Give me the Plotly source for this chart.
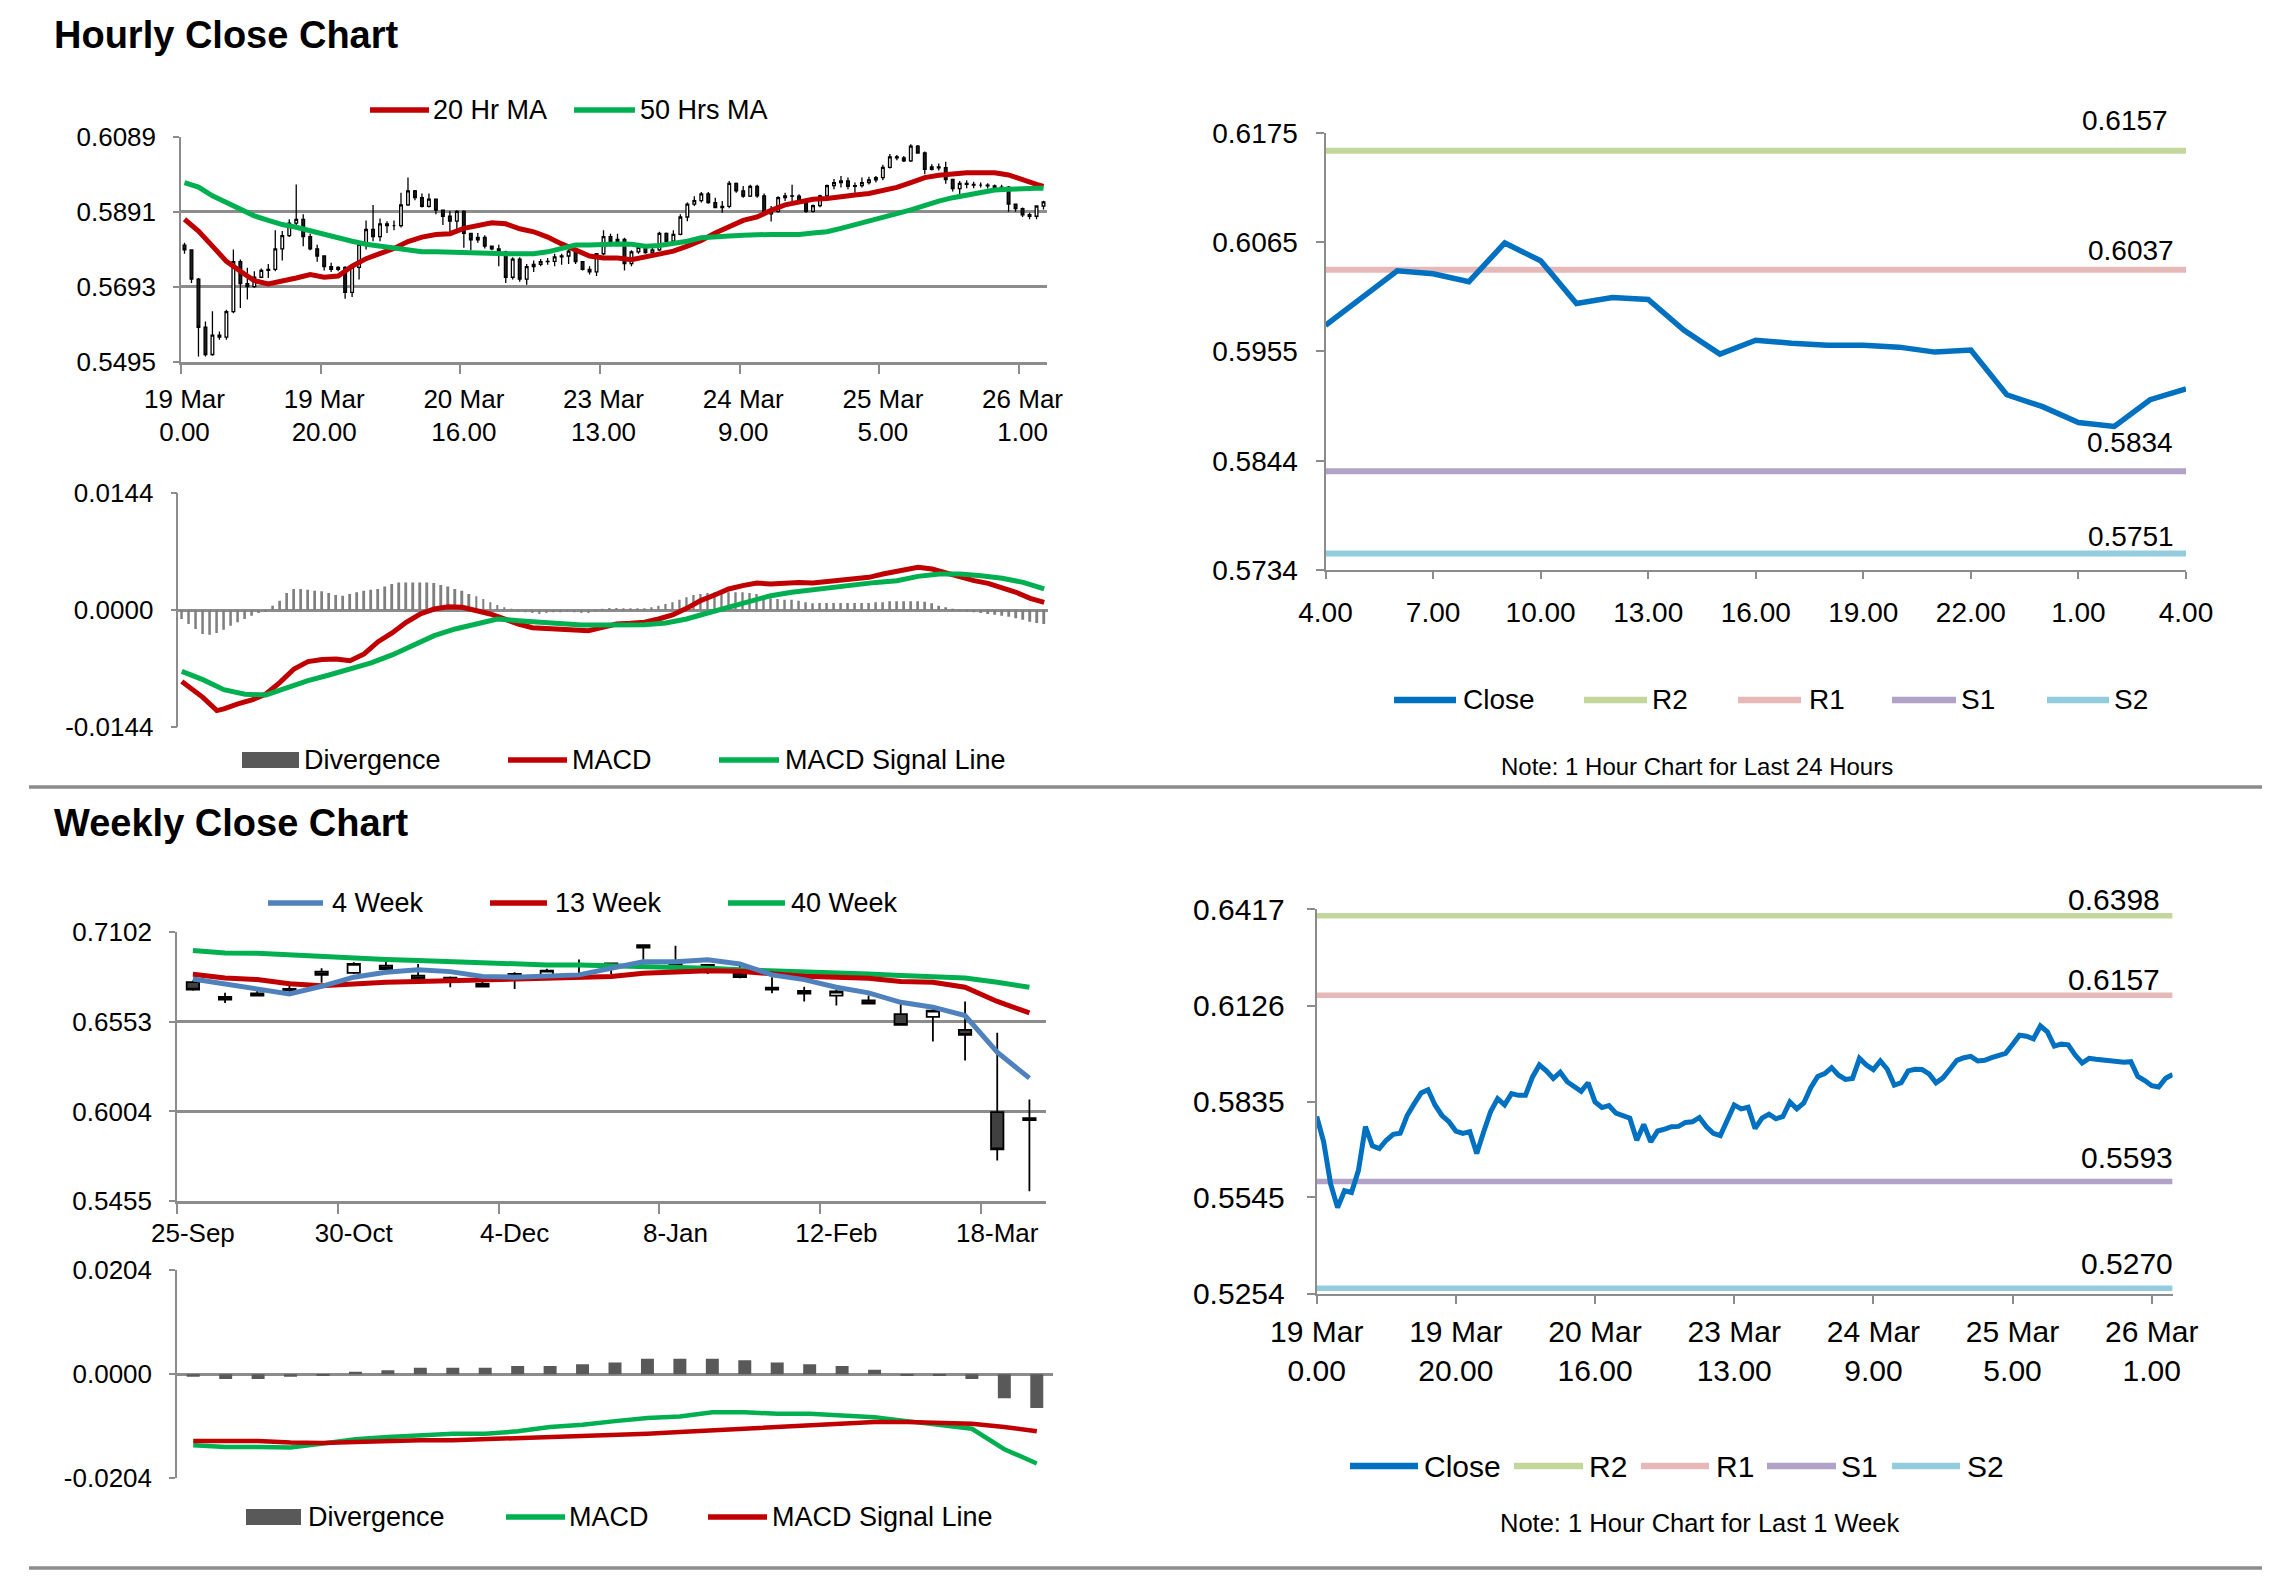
import plotly.graph_objects as go

W, H = 2291, 1577
FONT = "Liberation Sans, Arial, sans-serif"
GRID = "#8c8c8c"

# ---------------- Hourly data (1 hour candles, last week) ----------------
hr_tick_pos = [0, 20, 40, 60, 80, 100, 120]
hr_tick_text = ["19 Mar<br>0.00", "19 Mar<br>20.00", "20 Mar<br>16.00", "23 Mar<br>13.00",
                "24 Mar<br>9.00", "25 Mar<br>5.00", "26 Mar<br>1.00"]

hr_open = [0.5803, 0.5790, 0.5713, 0.5586, 0.5514, 0.5565, 0.5560, 0.5627, 0.5759, 0.5701,
           0.5693, 0.5718, 0.5736, 0.5739, 0.5793, 0.5828, 0.5861, 0.5871, 0.5825, 0.5793,
           0.5774, 0.5746, 0.5739, 0.5744, 0.5678, 0.5744, 0.5805, 0.5844, 0.5825, 0.5859,
           0.5854, 0.5854, 0.5909, 0.5946, 0.5928, 0.5905, 0.5924, 0.5895, 0.5879, 0.5866,
           0.5892, 0.5834, 0.5817, 0.5823, 0.5800, 0.5793, 0.5785, 0.5718, 0.5766, 0.5713,
           0.5746, 0.5752, 0.5759, 0.5760, 0.5772, 0.5774, 0.5787, 0.5759, 0.5739, 0.5732,
           0.5780, 0.5825, 0.5813, 0.5818, 0.5754, 0.5785, 0.5797, 0.5783, 0.5790, 0.5834,
           0.5813, 0.5831, 0.5877, 0.5911, 0.5920, 0.5938, 0.5915, 0.5902, 0.5905, 0.5966,
           0.5946, 0.5932, 0.5958, 0.5933, 0.5885, 0.5892, 0.5928, 0.5933, 0.5932, 0.5919,
           0.5892, 0.5907, 0.5933, 0.5960, 0.5968, 0.5972, 0.5958, 0.5960, 0.5968, 0.5975,
           0.5981, 0.6008, 0.6036, 0.6033, 0.6025, 0.6064, 0.6046, 0.6003, 0.6009, 0.6007,
           0.5976, 0.5952, 0.5966, 0.5963, 0.5961, 0.5961, 0.5959, 0.5954, 0.5956, 0.5911,
           0.5899, 0.5883, 0.5879, 0.5906]
hr_high = [0.5809, 0.5792, 0.5716, 0.5601, 0.5628, 0.5575, 0.5632, 0.5791, 0.5765, 0.5743,
           0.5734, 0.5741, 0.5753, 0.5842, 0.5840, 0.5871, 0.5963, 0.5884, 0.5833, 0.5804,
           0.5776, 0.5756, 0.5747, 0.5747, 0.5751, 0.5808, 0.5868, 0.5909, 0.5873, 0.5866,
           0.5868, 0.5941, 0.5981, 0.5948, 0.5939, 0.5939, 0.5926, 0.5897, 0.5893, 0.5895,
           0.5895, 0.5835, 0.5835, 0.5829, 0.5802, 0.5804, 0.5788, 0.5771, 0.5771, 0.5753,
           0.5762, 0.5766, 0.5769, 0.5780, 0.5780, 0.5791, 0.5790, 0.5761, 0.5747, 0.5782,
           0.5842, 0.5833, 0.5833, 0.5822, 0.5789, 0.5800, 0.5800, 0.5800, 0.5838, 0.5836,
           0.5842, 0.5884, 0.5915, 0.5932, 0.5943, 0.5943, 0.5928, 0.5919, 0.5972, 0.5968,
           0.5959, 0.5962, 0.5962, 0.5939, 0.5906, 0.5932, 0.5941, 0.5962, 0.5937, 0.5921,
           0.5910, 0.5936, 0.5963, 0.5977, 0.5985, 0.5981, 0.5968, 0.5981, 0.5983, 0.5985,
           0.6015, 0.6043, 0.6041, 0.6038, 0.6069, 0.6067, 0.6050, 0.6016, 0.6018, 0.6023,
           0.5977, 0.5972, 0.5974, 0.5970, 0.5968, 0.5966, 0.5963, 0.5962, 0.5959, 0.5912,
           0.5902, 0.5888, 0.5908, 0.5920]
hr_low = [0.5780, 0.5703, 0.5509, 0.5509, 0.5511, 0.5553, 0.5553, 0.5623, 0.5637, 0.5659,
          0.5690, 0.5716, 0.5716, 0.5734, 0.5762, 0.5824, 0.5849, 0.5800, 0.5789, 0.5759,
          0.5736, 0.5732, 0.5734, 0.5661, 0.5666, 0.5712, 0.5791, 0.5813, 0.5813, 0.5835,
          0.5842, 0.5849, 0.5906, 0.5921, 0.5902, 0.5902, 0.5884, 0.5856, 0.5840, 0.5840,
          0.5796, 0.5789, 0.5809, 0.5794, 0.5789, 0.5747, 0.5703, 0.5712, 0.5706, 0.5698,
          0.5732, 0.5747, 0.5751, 0.5747, 0.5751, 0.5753, 0.5753, 0.5736, 0.5725, 0.5721,
          0.5776, 0.5800, 0.5800, 0.5736, 0.5747, 0.5780, 0.5780, 0.5780, 0.5787, 0.5806,
          0.5809, 0.5829, 0.5866, 0.5906, 0.5915, 0.5912, 0.5900, 0.5888, 0.5900, 0.5941,
          0.5928, 0.5930, 0.5928, 0.5882, 0.5865, 0.5889, 0.5919, 0.5919, 0.5915, 0.5888,
          0.5889, 0.5903, 0.5930, 0.5950, 0.5955, 0.5950, 0.5941, 0.5955, 0.5963, 0.5968,
          0.5974, 0.6005, 0.6027, 0.6022, 0.6022, 0.6044, 0.5990, 0.6000, 0.6000, 0.5965,
          0.5944, 0.5935, 0.5953, 0.5953, 0.5955, 0.5952, 0.5950, 0.5950, 0.5891, 0.5891,
          0.5877, 0.5871, 0.5871, 0.5897]
hr_close = [0.5790, 0.5713, 0.5586, 0.5514, 0.5565, 0.5560, 0.5627, 0.5759, 0.5701, 0.5693,
            0.5718, 0.5736, 0.5739, 0.5793, 0.5828, 0.5861, 0.5871, 0.5825, 0.5793, 0.5774,
            0.5746, 0.5739, 0.5744, 0.5678, 0.5744, 0.5805, 0.5844, 0.5825, 0.5859, 0.5854,
            0.5854, 0.5909, 0.5946, 0.5928, 0.5905, 0.5924, 0.5895, 0.5879, 0.5866, 0.5892,
            0.5834, 0.5817, 0.5823, 0.5800, 0.5793, 0.5785, 0.5718, 0.5766, 0.5713, 0.5746,
            0.5752, 0.5759, 0.5760, 0.5772, 0.5774, 0.5787, 0.5759, 0.5739, 0.5732, 0.5780,
            0.5825, 0.5813, 0.5818, 0.5754, 0.5785, 0.5797, 0.5783, 0.5790, 0.5834, 0.5813,
            0.5831, 0.5877, 0.5911, 0.5920, 0.5938, 0.5915, 0.5902, 0.5905, 0.5966, 0.5946,
            0.5932, 0.5958, 0.5933, 0.5885, 0.5892, 0.5928, 0.5933, 0.5932, 0.5919, 0.5892,
            0.5907, 0.5933, 0.5960, 0.5968, 0.5972, 0.5958, 0.5960, 0.5968, 0.5975, 0.5981,
            0.6008, 0.6036, 0.6033, 0.6025, 0.6064, 0.6046, 0.6003, 0.6009, 0.6007, 0.5976,
            0.5952, 0.5966, 0.5963, 0.5961, 0.5961, 0.5959, 0.5954, 0.5956, 0.5911, 0.5899,
            0.5883, 0.5879, 0.5906, 0.5917]

hr_ma_idx = [0, 2, 4, 6, 8, 10, 12, 14, 16, 18, 20, 22, 24, 26, 28, 30, 32, 34, 36, 38, 40,
             42, 44, 46, 48, 50, 52, 54, 56, 58, 60, 62, 64, 66, 68, 70, 72, 74, 76, 78, 80,
             82, 84, 86, 88, 90, 92, 94, 96, 98, 100, 102, 104, 106, 108, 110, 112, 114, 116,
             118, 120, 122, 123]
hr_ma20 = [0.5871, 0.5840, 0.5800, 0.5760, 0.5734, 0.5709, 0.5700, 0.5707, 0.5716, 0.5725,
           0.5718, 0.5721, 0.5747, 0.5767, 0.5780, 0.5794, 0.5812, 0.5824, 0.5831, 0.5833,
           0.5847, 0.5856, 0.5862, 0.5859, 0.5846, 0.5838, 0.5824, 0.5806, 0.5789, 0.5774,
           0.5769, 0.5769, 0.5764, 0.5771, 0.5778, 0.5787, 0.5800, 0.5815, 0.5835, 0.5853,
           0.5868, 0.5877, 0.5895, 0.5909, 0.5917, 0.5924, 0.5926, 0.5932, 0.5935, 0.5939,
           0.5946, 0.5955, 0.5968, 0.5981, 0.5987, 0.5992, 0.5994, 0.5994, 0.5994, 0.5988,
           0.5974, 0.5963, 0.5958]
hr_ma50 = [0.5968, 0.5956, 0.5933, 0.5915, 0.5895, 0.5880, 0.5868, 0.5857, 0.5850, 0.5840,
           0.5831, 0.5822, 0.5813, 0.5805, 0.5800, 0.5794, 0.5789, 0.5785, 0.5785, 0.5784,
           0.5780, 0.5780, 0.5780, 0.5780, 0.5780, 0.5780, 0.5785, 0.5794, 0.5803, 0.5803,
           0.5805, 0.5806, 0.5805, 0.5800, 0.5802, 0.5806, 0.5813, 0.5822, 0.5826, 0.5827,
           0.5829, 0.5831, 0.5831, 0.5831, 0.5831, 0.5835, 0.5838, 0.5847, 0.5856, 0.5865,
           0.5875, 0.5886, 0.5896, 0.5909, 0.5919, 0.5928, 0.5935, 0.5944, 0.5948, 0.5950,
           0.5953, 0.5953, 0.5953]

hr_macd_idx = [0, 3, 5, 6, 8, 10, 12, 14, 16, 18, 20, 22, 24, 26, 28, 30, 32, 34, 36, 38, 40,
               42, 44, 46, 48, 50, 52, 54, 56, 58, 60, 62, 64, 66, 68, 70, 72, 74, 76, 78, 80,
               82, 84, 86, 88, 90, 92, 94, 96, 98, 100, 102, 104, 105, 107, 109, 111, 113,
               115, 117, 119, 121, 123]
hr_macd = [-0.00879, -0.01072, -0.01235, -0.01215, -0.01153, -0.01104, -0.01031, -0.00888,
           -0.00724, -0.00634, -0.00609, -0.00601, -0.00622, -0.00540, -0.00389, -0.00282,
           -0.00151, -0.00049, 0.00012, 0.00041, 0.00033, -0.00008, -0.00049, -0.00110,
           -0.00172, -0.00217, -0.00225, -0.00225, -0.00241, -0.00254, -0.00213, -0.00172,
           -0.00164, -0.00151, -0.00110, -0.00061, 0.00020, 0.00115, 0.00184, 0.00258,
           0.00299, 0.00331, 0.00319, 0.00327, 0.00339, 0.00331, 0.00348, 0.00364, 0.00380,
           0.00401, 0.00442, 0.00470, 0.00503, 0.00524, 0.00503, 0.00454, 0.00401, 0.00360,
           0.00327, 0.00278, 0.00217, 0.00143, 0.00094]
hr_signal_idx = [0, 3, 6, 9, 12, 15, 18, 21, 24, 27, 30, 33, 36, 39, 42, 45, 48, 51, 54, 57,
                 60, 63, 66, 69, 72, 75, 78, 81, 84, 87, 90, 93, 96, 99, 102, 105, 108, 111,
                 114, 117, 120, 123]
hr_signal = [-0.00753, -0.00855, -0.00978, -0.01035, -0.01043, -0.00949, -0.00867, -0.00798,
             -0.00724, -0.00650, -0.00552, -0.00438, -0.00315, -0.00233, -0.00164, -0.00110,
             -0.00131, -0.00151, -0.00172, -0.00184, -0.00184, -0.00184, -0.00180, -0.00160,
             -0.00110, -0.00037, 0.00033, 0.00102, 0.00176, 0.00217, 0.00249, 0.00286,
             0.00311, 0.00339, 0.00360, 0.00413, 0.00442, 0.00442, 0.00421, 0.00389, 0.00339,
             0.00258]
hr_div = [-0.00110, -0.00172, -0.00233, -0.00294, -0.00303, -0.00282, -0.00241, -0.00192, -0.00151, -0.00110,
          -0.00070, -0.00037, -0.00012, 0.00053, 0.00115, 0.00209, 0.00258, 0.00258, 0.00249, 0.00237,
          0.00229, 0.00209, 0.00184, 0.00176, 0.00196, 0.00217, 0.00237, 0.00249, 0.00258, 0.00290,
          0.00319, 0.00339, 0.00339, 0.00339, 0.00339, 0.00339, 0.00331, 0.00307, 0.00290, 0.00258,
          0.00237, 0.00196, 0.00168, 0.00135, 0.00094, 0.00061, 0.00033, 0.00004, -0.00020, -0.00029,
          -0.00037, -0.00049, -0.00037, -0.00029, -0.00029, -0.00020, -0.00029, -0.00037, -0.00037, -0.00020,
          0.00004, 0.00025, 0.00025, 0.00020, 0.00020, 0.00020, 0.00020, 0.00033, 0.00053, 0.00074,
          0.00094, 0.00127, 0.00155, 0.00184, 0.00196, 0.00209, 0.00217, 0.00217, 0.00217, 0.00217,
          0.00217, 0.00209, 0.00196, 0.00155, 0.00143, 0.00135, 0.00127, 0.00127, 0.00115, 0.00094,
          0.00082, 0.00086, 0.00086, 0.00086, 0.00086, 0.00086, 0.00086, 0.00086, 0.00086, 0.00094,
          0.00094, 0.00106, 0.00106, 0.00106, 0.00106, 0.00106, 0.00102, 0.00082, 0.00053, 0.00033,
          0.00012, -0.00004, -0.00016, -0.00029, -0.00037, -0.00049, -0.00057, -0.00070, -0.00082, -0.00102,
          -0.00119, -0.00143, -0.00160, -0.00172]

# last 24 hours chart (top right)
last24_tick_pos = [0, 3, 6, 9, 12, 15, 18, 21, 24]
last24_tick_text = ["4.00", "7.00", "10.00", "13.00", "16.00", "19.00", "22.00", "1.00", "4.00"]
level_names = ["R2", "R1", "S1", "S2"]
level_colors = ["#C3D69B", "#E6B9B8", "#B3A2C7", "#93CDDD"]
day_levels = [0.6157, 0.6037, 0.5834, 0.5751]
week_levels = [0.6398, 0.6157, 0.5593, 0.5270]

# ---------------- Weekly data ----------------
wk_labels = ["25-Sep", "2-Oct", "9-Oct", "16-Oct", "23-Oct", "30-Oct", "6-Nov", "13-Nov",
             "20-Nov", "27-Nov", "4-Dec", "11-Dec", "18-Dec", "25-Dec", "1-Jan", "8-Jan",
             "15-Jan", "22-Jan", "29-Jan", "5-Feb", "12-Feb", "19-Feb", "26-Feb", "4-Mar",
             "11-Mar", "18-Mar", "25-Mar"]
wk_open = [0.6796, 0.6706, 0.6727, 0.6755, 0.6861, 0.6853, 0.6898, 0.6837, 0.6824, 0.6786,
           0.6847, 0.6833, 0.6841, 0.6902, 0.7024, 0.6918, 0.6902, 0.6847, 0.6763, 0.6743,
           0.6714, 0.6684, 0.6600, 0.6584, 0.6504, 0.6000, 0.5963]
wk_high = [0.6806, 0.6731, 0.6743, 0.6800, 0.6882, 0.6918, 0.6922, 0.6908, 0.6831, 0.6806,
           0.6857, 0.6878, 0.6935, 0.6914, 0.7026, 0.7020, 0.6908, 0.6918, 0.6827, 0.6769,
           0.6751, 0.6714, 0.6684, 0.6633, 0.6678, 0.6486, 0.6077]
wk_low = [0.6743, 0.6669, 0.6710, 0.6735, 0.6792, 0.6847, 0.6871, 0.6810, 0.6765, 0.6765,
          0.6755, 0.6827, 0.6827, 0.6847, 0.6933, 0.6888, 0.6847, 0.6820, 0.6729, 0.6678,
          0.6653, 0.6663, 0.6533, 0.6433, 0.6316, 0.5704, 0.5514]
wk_close = [0.6751, 0.6690, 0.6714, 0.6747, 0.6841, 0.6908, 0.6877, 0.6816, 0.6812, 0.6769,
            0.6827, 0.6867, 0.6845, 0.6912, 0.7008, 0.6898, 0.6888, 0.6827, 0.6751, 0.6727,
            0.6739, 0.6665, 0.6535, 0.6622, 0.6473, 0.5771, 0.5951]
wk_ma4 = [0.6816, 0.6786, 0.6751, 0.6724, 0.6771, 0.6827, 0.6857, 0.6873, 0.6861, 0.6831,
          0.6827, 0.6833, 0.6841, 0.6882, 0.6922, 0.6922, 0.6933, 0.6908, 0.6841, 0.6812,
          0.6765, 0.6731, 0.6673, 0.6643, 0.6592, 0.6367, 0.6208]
wk_ma13 = [0.6845, 0.6822, 0.6812, 0.6786, 0.6775, 0.6786, 0.6796, 0.6800, 0.6804, 0.6810,
           0.6814, 0.6816, 0.6820, 0.6831, 0.6851, 0.6861, 0.6867, 0.6863, 0.6847, 0.6833,
           0.6827, 0.6820, 0.6800, 0.6796, 0.6765, 0.6678, 0.6608]
wk_ma40 = [0.6990, 0.6975, 0.6973, 0.6963, 0.6951, 0.6945, 0.6935, 0.6929, 0.6922, 0.6914,
           0.6906, 0.6902, 0.6902, 0.6898, 0.6892, 0.6886, 0.6882, 0.6873, 0.6867, 0.6861,
           0.6857, 0.6847, 0.6837, 0.6833, 0.6822, 0.6796, 0.6765]
wk_div = [-0.00052, -0.00097, -0.00097, -0.00052, -0.00026, 0.00045, 0.00078, 0.00123, 0.00123,
          0.00123, 0.00162, 0.00162, 0.00194, 0.00227, 0.00304, 0.00304, 0.00304, 0.00272,
          0.00227, 0.00194, 0.00162, 0.00084, -0.00019, -0.00019, -0.00097, -0.00473, -0.00661]
wk_macd = [-0.01392, -0.01425, -0.01425, -0.01438, -0.01360, -0.01276, -0.01230, -0.01198,
           -0.01166, -0.01166, -0.01120, -0.01036, -0.00991, -0.00920, -0.00861, -0.00829,
           -0.00745, -0.00745, -0.00777, -0.00777, -0.00810, -0.00842, -0.00920, -0.01004,
           -0.01069, -0.01470, -0.01749]
wk_signal = [-0.01308, -0.01308, -0.01308, -0.01341, -0.01347, -0.01328, -0.01308, -0.01295,
             -0.01295, -0.01276, -0.01263, -0.01243, -0.01211, -0.01198, -0.01166, -0.01133,
             -0.01101, -0.01069, -0.01036, -0.01004, -0.00971, -0.00939, -0.00939, -0.00958,
             -0.00971, -0.01036, -0.01120]
wk_tick_pos = [0, 5, 10, 15, 20, 25]

# y tick values of each panel
tl_yticks = [0.5495, 0.5693, 0.5891, 0.6089]
hm_yticks = [-0.0144, 0.0, 0.0144]
tr_yticks = [0.5734, 0.5844, 0.5955, 0.6065, 0.6175]
wk_yticks = [0.5455, 0.6004, 0.6553, 0.7102]
wm_yticks = [-0.0204, 0.0, 0.0204]
br_yticks = [0.5254, 0.5545, 0.5835, 0.6126, 0.6417]


# ---------------- helpers ----------------
def px(x):
    return x / W


def py(y):
    return 1 - y / H


hours = list(range(len(hr_close)))
last24 = hr_close[-25:]
last24_x = list(range(len(last24)))
weeks = list(range(len(wk_labels)))

RED, GREEN, BLUE, LBLUE = "#C00000", "#00B050", "#0070C0", "#4F81BD"

fig = go.Figure()

# ---- top-left: hourly candles + MAs ----
fig.add_trace(go.Candlestick(
    x=hours, open=hr_open, high=hr_high, low=hr_low, close=hr_close, xaxis="x", yaxis="y",
    increasing=dict(fillcolor="white", line=dict(color="black", width=1.3)),
    decreasing=dict(fillcolor="#1e1e1e", line=dict(color="black", width=1.3)),
    whiskerwidth=0, hoverinfo="skip"))
fig.add_trace(go.Scatter(x=hr_ma_idx, y=hr_ma20, mode="lines", xaxis="x", yaxis="y",
                         line=dict(color=RED, width=5)))
fig.add_trace(go.Scatter(x=hr_ma_idx, y=hr_ma50, mode="lines", xaxis="x", yaxis="y",
                         line=dict(color=GREEN, width=5)))

# ---- hourly MACD ----
fig.add_trace(go.Bar(x=hours, y=hr_div, xaxis="x2", yaxis="y2", width=0.28,
                     marker=dict(color="#7f7f7f", line=dict(width=0))))
fig.add_trace(go.Scatter(x=hr_macd_idx, y=hr_macd, mode="lines", xaxis="x2", yaxis="y2",
                         line=dict(color=RED, width=5)))
fig.add_trace(go.Scatter(x=hr_signal_idx, y=hr_signal, mode="lines", xaxis="x2", yaxis="y2",
                         line=dict(color=GREEN, width=5)))

# ---- top-right: last 24 hours ----
for name, val, col in zip(level_names, day_levels, level_colors):
    fig.add_trace(go.Scatter(x=[last24_x[0], last24_x[-1]], y=[val, val], mode="lines",
                             xaxis="x3", yaxis="y3", line=dict(color=col, width=6)))
fig.add_trace(go.Scatter(x=last24_x, y=last24, mode="lines", xaxis="x3", yaxis="y3",
                         line=dict(color=BLUE, width=5.5)))

# ---- weekly candles + MAs ----
fig.add_trace(go.Candlestick(
    x=weeks, open=wk_open, high=wk_high, low=wk_low, close=wk_close, xaxis="x4", yaxis="y4",
    increasing=dict(fillcolor="white", line=dict(color="black", width=1.8)),
    decreasing=dict(fillcolor="#404040", line=dict(color="black", width=1.8)),
    whiskerwidth=0, hoverinfo="skip"))
fig.add_trace(go.Scatter(x=weeks, y=wk_ma40, mode="lines", xaxis="x4", yaxis="y4",
                         line=dict(color=GREEN, width=5)))
fig.add_trace(go.Scatter(x=weeks, y=wk_ma13, mode="lines", xaxis="x4", yaxis="y4",
                         line=dict(color=RED, width=5)))
fig.add_trace(go.Scatter(x=weeks, y=wk_ma4, mode="lines", xaxis="x4", yaxis="y4",
                         line=dict(color=LBLUE, width=5)))

# ---- weekly MACD ----
fig.add_trace(go.Bar(x=weeks, y=wk_div, xaxis="x5", yaxis="y5", width=0.4,
                     marker=dict(color="#595959", line=dict(width=0))))
fig.add_trace(go.Scatter(x=weeks, y=wk_macd, mode="lines", xaxis="x5", yaxis="y5",
                         line=dict(color=GREEN, width=4.5)))
fig.add_trace(go.Scatter(x=weeks, y=wk_signal, mode="lines", xaxis="x5", yaxis="y5",
                         line=dict(color=RED, width=4.5)))

# ---- bottom-right: hourly close, last week ----
for name, val, col in zip(level_names, week_levels, level_colors):
    fig.add_trace(go.Scatter(x=[hours[0], hours[-1]], y=[val, val], mode="lines",
                             xaxis="x6", yaxis="y6", line=dict(color=col, width=5.5)))
fig.add_trace(go.Scatter(x=hours, y=hr_close, mode="lines", xaxis="x6", yaxis="y6",
                         line=dict(color=BLUE, width=5)))


# ---------------- axes ----------------
def tfont(s):
    return dict(family=FONT, size=s, color="black")


def fmt(vals):
    return [f"{v:.4f}" for v in vals]


def price_y(domain, rng, vals, anchor, size=26, standoff=12):
    return dict(domain=domain, range=rng, anchor=anchor, tickmode="array", tickvals=vals,
                ticktext=fmt(vals), showgrid=True, gridcolor=GRID, gridwidth=2.5,
                zeroline=False, showline=True, linecolor=GRID, linewidth=1.5,
                ticks="outside", ticklen=6, tickcolor=GRID, tickwidth=2, tickfont=tfont(size),
                ticklabelstandoff=standoff, automargin=False, fixedrange=True)


def line_y(domain, rng, vals, anchor, size, standoff):
    return dict(domain=domain, range=rng, anchor=anchor, tickmode="array", tickvals=vals,
                ticktext=fmt(vals), showgrid=False, zeroline=False, showline=True,
                linecolor=GRID, linewidth=2, ticks="outside", ticklen=8, tickcolor=GRID,
                tickwidth=2, tickfont=tfont(size), ticklabelstandoff=standoff,
                automargin=False, fixedrange=True)


layout_axes = dict(
    xaxis=dict(domain=[px(181), px(1047)], range=[-0.5, len(hours) - 0.5], anchor="y",
               tickmode="array", tickvals=hr_tick_pos, ticktext=hr_tick_text, ticks="",
               showgrid=False, zeroline=False, showline=True, linecolor=GRID, linewidth=2.5,
               tickfont=tfont(26), ticklabelstandoff=12, rangeslider=dict(visible=False),
               minor=dict(tickmode="array", tickvals=[p - 0.5 for p in hr_tick_pos],
                          ticks="outside", ticklen=10, tickcolor=GRID, tickwidth=2,
                          showgrid=False),
               automargin=False, fixedrange=True),
    yaxis=price_y([py(361.7), py(136.7)], [0.5495, 0.6089], tl_yticks, "x"),
    xaxis2=dict(domain=[px(178.3), px(1047.7)], range=[-0.5, len(hours) - 0.5], anchor="y2",
                showticklabels=False, ticks="", showgrid=False, zeroline=False,
                showline=False, automargin=False, fixedrange=True),
    yaxis2=price_y([py(727.3), py(492.7)], [-0.0144, 0.0144], hm_yticks, "x2"),
    xaxis3=dict(domain=[px(1325.5), px(2186)], range=[0, len(last24) - 1], anchor="y3",
                tickmode="array", tickvals=last24_tick_pos, ticktext=last24_tick_text,
                showgrid=False, zeroline=False, showline=True, linecolor=GRID, linewidth=2,
                ticks="outside", ticklen=7, tickcolor=GRID, tickwidth=2, tickfont=tfont(28),
                ticklabelstandoff=9, automargin=False, fixedrange=True),
    yaxis3=line_y([py(570.4), py(132.8)], [0.5734, 0.6175], tr_yticks, "x3", 28, 12),
    xaxis4=dict(domain=[px(176.8), px(1045.5)], range=[-0.5, len(weeks) - 0.5], anchor="y4",
                tickmode="array", tickvals=wk_tick_pos, ticktext=[wk_labels[i] for i in wk_tick_pos],
                ticks="", showgrid=False, zeroline=False, showline=True, linecolor=GRID,
                linewidth=2.5, tickfont=tfont(26), ticklabelstandoff=7,
                rangeslider=dict(visible=False),
                minor=dict(tickmode="array", tickvals=[p - 0.5 for p in wk_tick_pos],
                           ticks="outside", ticklen=10, tickcolor=GRID, tickwidth=2,
                           showgrid=False),
                automargin=False, fixedrange=True),
    yaxis4=price_y([py(1201), py(932.3)], [0.5455, 0.7102], wk_yticks, "x4"),
    xaxis5=dict(domain=[px(177), px(1053)], range=[-0.5, len(weeks) - 0.5], anchor="y5",
                showticklabels=False, ticks="", showgrid=False, zeroline=False,
                showline=False, automargin=False, fixedrange=True),
    yaxis5=price_y([py(1478.3), py(1270)], [-0.0204, 0.0204], wm_yticks, "x5"),
    xaxis6=dict(domain=[px(1316.7), px(2172.6)], range=[0, len(hours) - 1], anchor="y6",
                tickmode="array", tickvals=hr_tick_pos, ticktext=hr_tick_text,
                showgrid=False, zeroline=False, showline=True, linecolor=GRID, linewidth=2,
                ticks="outside", ticklen=8, tickcolor=GRID, tickwidth=2, tickfont=tfont(30),
                ticklabelstandoff=2, automargin=False, fixedrange=True),
    yaxis6=line_y([py(1293.5), py(909.4)], [0.5254, 0.6417], br_yticks, "x6", 30, 16),
)

fig.update_layout(width=W, height=H,
                  margin=dict(l=0, r=0, t=0, b=0, pad=0, autoexpand=False),
                  autosize=False, paper_bgcolor="white", plot_bgcolor="white",
                  showlegend=False, hovermode=False, boxgap=0.45,
                  font=dict(family=FONT, color="black"), **layout_axes)


# ---------------- text, legends, separators ----------------
def text(x, y, s, size, xanchor="left", bold=False):
    fig.add_annotation(xref="paper", yref="paper", x=px(x), y=py(y), text=s, showarrow=False,
                       xanchor=xanchor, yanchor="middle",
                       font=dict(family=FONT, size=size, color="black",
                                 weight="bold" if bold else "normal"))


def leg_line(x0, x1, y, color, width=6):
    fig.add_shape(type="line", xref="paper", yref="paper", x0=px(x0), x1=px(x1),
                  y0=py(y), y1=py(y), line=dict(color=color, width=width))


def leg_box(x0, x1, y, h, color):
    fig.add_shape(type="rect", xref="paper", yref="paper", x0=px(x0), x1=px(x1),
                  y0=py(y + h / 2), y1=py(y - h / 2), fillcolor=color, line=dict(width=0))


text(52, 35, "Hourly Close Chart", 38, bold=True)
text(52, 823, "Weekly Close Chart", 38, bold=True)

# top-left legend
leg_line(370, 429, 110, RED, 5.5); text(431, 110, "20 Hr MA", 27)
leg_line(574, 635, 110, GREEN, 5.5); text(638, 110, "50 Hrs MA", 27)
# hourly MACD legend
leg_box(242, 299, 760, 16, "#595959"); text(302, 760, "Divergence", 27)
leg_line(508, 567, 760, RED, 5.5); text(570, 760, "MACD", 27)
leg_line(719, 779, 760, GREEN, 5.5); text(783, 760, "MACD Signal Line", 27)
# top-right legend
leg_line(1394, 1456, 700, BLUE, 6.5); text(1461, 700, "Close", 28)
for (x0, x1, tx), name, col in zip([(1584, 1647, 1650), (1738, 1801, 1807),
                                    (1892, 1956, 1959), (2047, 2109, 2112)],
                                   level_names, level_colors):
    leg_line(x0, x1, 700, col, 6.5); text(tx, 700, name, 28)
text(1697, 766, "Note: 1 Hour Chart for Last 24 Hours", 24, xanchor="center")
# weekly legend
leg_line(268, 323, 903, LBLUE, 5.5); text(330, 903, "4 Week", 27)
leg_line(490, 547, 903, RED, 5.5); text(553, 903, "13 Week", 27)
leg_line(728, 785, 903, GREEN, 5.5); text(789, 903, "40 Week", 27)
# weekly MACD legend
leg_box(246, 301, 1517, 16, "#595959"); text(306, 1517, "Divergence", 27)
leg_line(506, 565, 1517, GREEN, 5.5); text(567, 1517, "MACD", 27)
leg_line(708, 767, 1517, RED, 5.5); text(770, 1517, "MACD Signal Line", 27)
# bottom-right legend
leg_line(1350, 1418, 1466, BLUE, 6.5); text(1422, 1466, "Close", 30)
for (x0, x1, tx), name, col in zip([(1514, 1583, 1587), (1641, 1709, 1714),
                                    (1767, 1836, 1839), (1892, 1960, 1965)],
                                   level_names, level_colors):
    leg_line(x0, x1, 1466, col, 6.5); text(tx, 1466, name, 30)
text(1699, 1523, "Note: 1 Hour Chart for Last 1 Week", 25.5, xanchor="center")

# level value labels
for val, ys, xs in zip(day_levels, [30, 19, 29, 17], [-16, -10, -11, -10]):
    fig.add_annotation(xref="x3", yref="y3", x=last24_x[-1], y=val, text=f"{val:.4f}",
                       showarrow=False, xanchor="right", yanchor="middle", yshift=ys, xshift=xs,
                       font=tfont(28))
for val, ys, xs in zip(week_levels, [16, 16, 24, 25], [-11, -11, 2, 2]):
    fig.add_annotation(xref="x6", yref="y6", x=hours[-1], y=val, text=f"{val:.4f}",
                       showarrow=False, xanchor="right", yanchor="middle", yshift=ys, xshift=xs,
                       font=tfont(30))

# separators
for yy in [787, 1568]:
    fig.add_shape(type="line", xref="paper", yref="paper", x0=px(29), x1=px(2262),
                  y0=py(yy), y1=py(yy), line=dict(color="#8c8c8c", width=3.5))

fig.write_html("out.html", post_script="document.body.style.margin='0';",
               config={"displayModeBar": False})
